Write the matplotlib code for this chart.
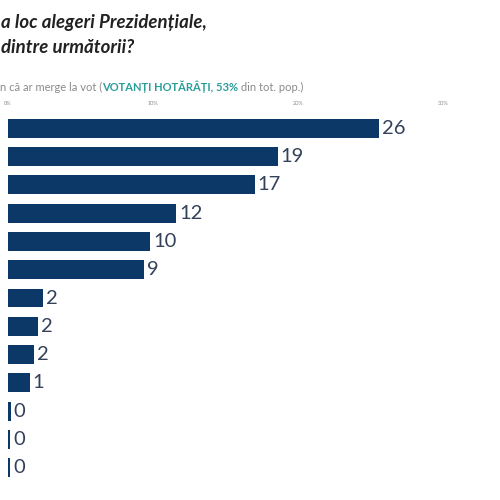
import matplotlib
matplotlib.use('Agg')
from matplotlib import pyplot as plt
import numpy as np

# values (labels are rounded)
values = [25.6, 18.6, 17.0, 11.6, 9.8, 9.4, 2.4, 2.1, 1.8, 1.5, 0.2, 0.15, 0.15]
labels = ['26', '19', '17', '12', '10', '9', '2', '2', '2', '1', '0', '0', '0']
ticks = [0, 10, 20, 30]
tick_labels = ['0%', '10%', '20%', '30%']

navy = '#0b3866'
label_col = '#33415a'
teal = '#2a9d9a'
grey = '#8a8a8a'

plt.rcParams['font.family'] = ['Lato', 'DejaVu Sans']

fig = plt.figure(figsize=(5, 5), dpi=100)
ax = fig.add_axes([0.016, 0.036, 0.87, 0.736])

pos = np.arange(len(values))
ax.barh(pos, values, height=0.67, color=navy)
for p, v, l in zip(pos, values, labels):
    ax.text(v + 0.2, p, l, va='center', ha='left', fontsize=14.5, color=label_col)

ax.set_ylim(len(values) - 0.5, -0.5)
ax.set_xlim(0, 30)
ax.xaxis.tick_top()
ax.set_xticks(ticks)
ax.set_xticklabels(tick_labels, fontsize=4, color=grey)
ax.tick_params(axis='x', length=0, pad=6)
ax.set_yticks([])
for s in ax.spines.values():
    s.set_visible(False)

# title (cut off on the left, as in the source)
fig.text(0.002, 0.944, 'a loc alegeri Prezidențiale,', fontsize=13.4, fontweight='bold',
         style='italic', color='#222222', va='baseline')
fig.text(0.002, 0.894, 'dintre următorii?', fontsize=13.4, fontweight='bold',
         style='italic', color='#222222', va='baseline')

# subtitle with coloured parts
parts = [('n că ar merge la vot (', grey, 'normal'),
         ('VOTANȚI HOTĂRÂȚI, 53%', teal, 'bold'),
         (' din tot. pop.)', grey, 'normal')]
x = 0.0
renderer = fig.canvas.get_renderer()
for txt, col, w in parts:
    t = fig.text(x, 0.826, txt, fontsize=8, color=col, fontweight=w, va='center')
    bb = t.get_window_extent(renderer=renderer)
    x += bb.width / fig.bbox.width

fig.savefig('out.png', dpi=100)
